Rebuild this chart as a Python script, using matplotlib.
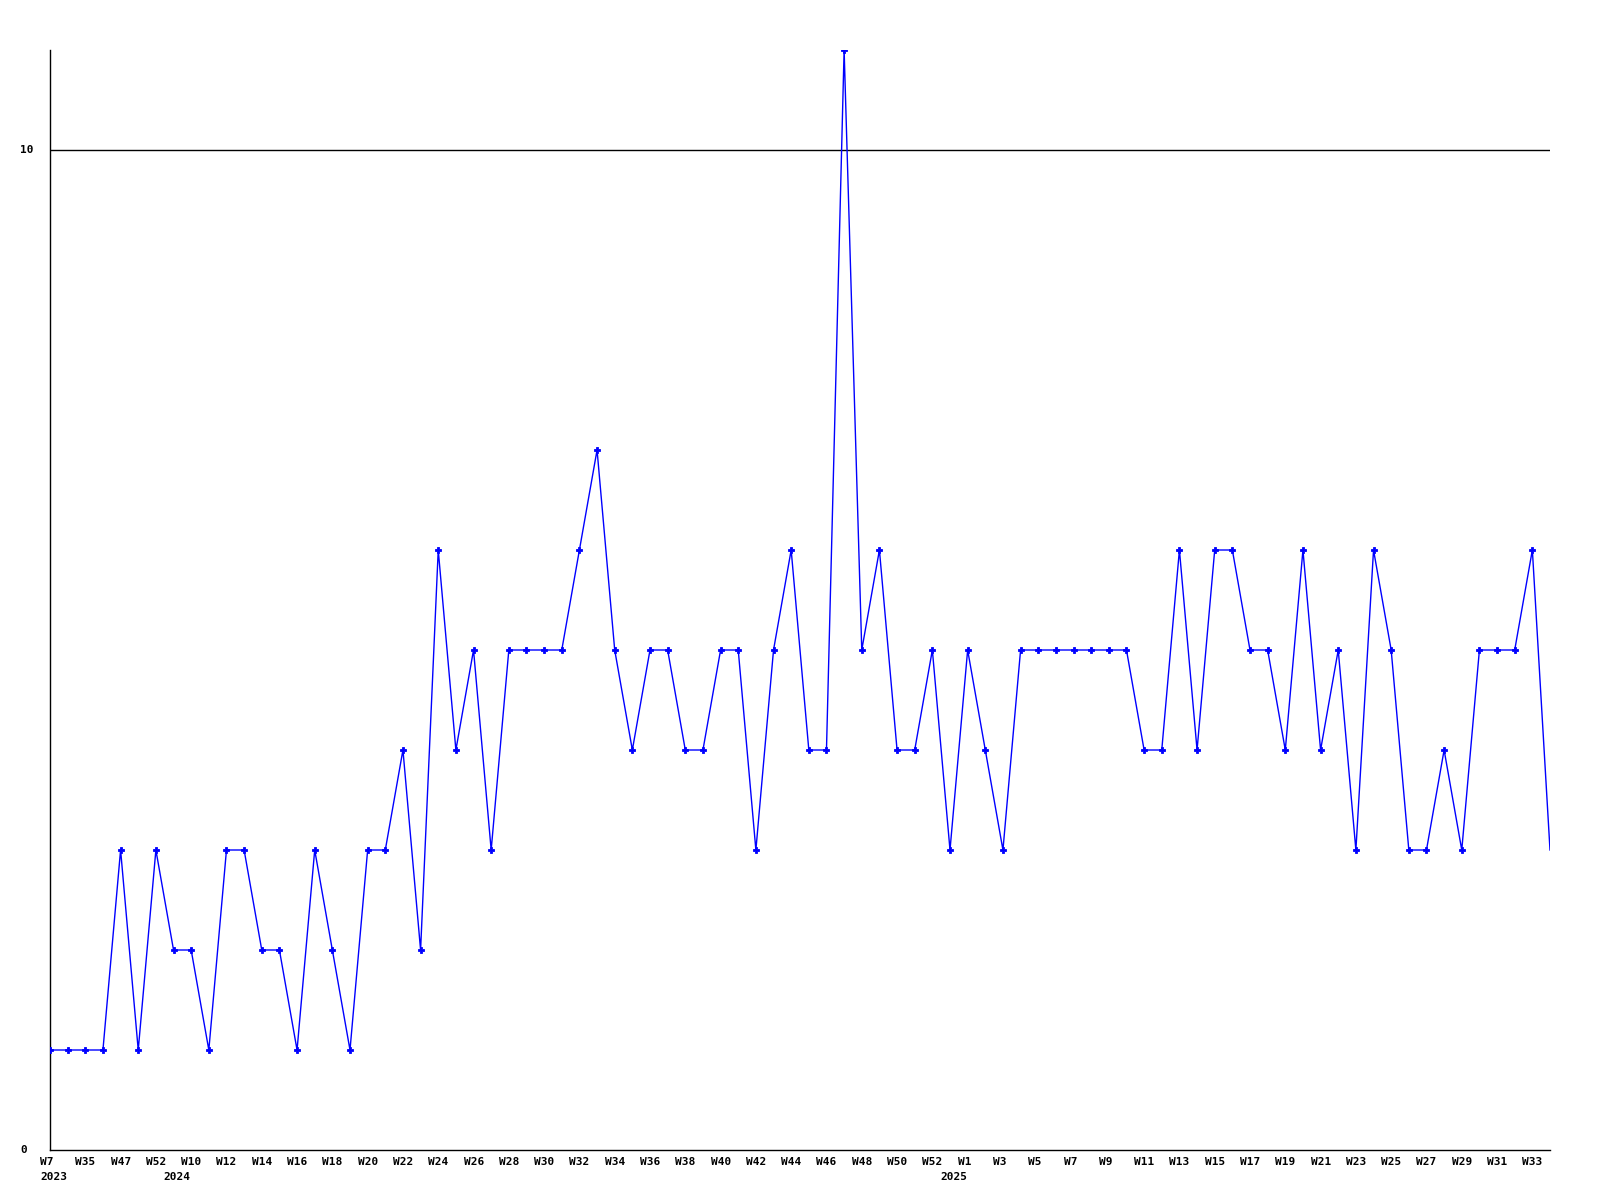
import matplotlib
matplotlib.use("Agg")
import matplotlib.pyplot as plt
from matplotlib.transforms import ScaledTranslation, blended_transform_factory

values = [1, 1, 1, 1, 3, 1, 3, 2, 2, 1, 3, 3, 2, 2, 1, 3, 2, 1, 3, 3,
          4, 2, 6, 4, 5, 3, 5, 5, 5, 5, 6, 7, 5, 4, 5, 5, 4, 4, 5, 5,
          3, 5, 6, 4, 4, 11, 5, 6, 4, 4, 5, 3, 5, 4, 3, 5, 5, 5, 5, 5,
          5, 5, 4, 4, 6, 4, 6, 6, 5, 5, 4, 6, 4, 5, 3, 6, 5, 3, 3, 4,
          3, 5, 5, 5, 6, 3]

week_labels = ["W7", "W35", "W47", "W52", "W10", "W12", "W14", "W16", "W18", "W20",
               "W22", "W24", "W26", "W28", "W30", "W32", "W34", "W36", "W38", "W40",
               "W42", "W44", "W46", "W48", "W50", "W52", "W1", "W3", "W5", "W7",
               "W9", "W11", "W13", "W15", "W17", "W19", "W21", "W23", "W25", "W27",
               "W29", "W31", "W33"]
week_label_idx = list(range(0, 86, 2))

year_labels = ["2023", "2024", "2025"]
year_label_idx = [0, 7, 51]

y_ticks = [0, 10]

fig = plt.figure(figsize=(16, 12), dpi=100)
ax = fig.add_axes([50 / 1600, 1 - 1150 / 1200, 1500 / 1600, 1100 / 1200])

x = list(range(len(values)))
ax.plot(x, values, color="#0000ff", linewidth=1.0, zorder=3)
ax.plot(x[:-1], values[:-1], linestyle="none", marker="P", markersize=4.5,
        color="#0000ff", markeredgewidth=0.6, zorder=4)

ax.set_xlim(0, len(values) - 1)
ax.set_ylim(0, 11)

for s in ["top", "right"]:
    ax.spines[s].set_visible(False)
for s in ["left", "bottom"]:
    ax.spines[s].set_color("black")
    ax.spines[s].set_linewidth(1.0)

ax.set_xticks([])
ax.set_yticks([])

# gridline at 10
for yt in y_ticks:
    if yt > 0:
        ax.axhline(yt, color="black", linewidth=1.0, zorder=2)

font = dict(family="DejaVu Sans Mono", fontweight="bold", fontsize=8, color="black")

# y labels
ytrans = blended_transform_factory(fig.transFigure, ax.transData)
for yt in y_ticks:
    ax.text(20 / 1600, yt, str(yt), transform=ytrans, ha="left", va="center", **font)

# x week labels
off = ScaledTranslation(-10 / 100, 0, fig.dpi_scale_trans)
xtrans = blended_transform_factory(ax.transData, fig.transFigure)
for i, lab in zip(week_label_idx, week_labels):
    ax.text(i, 1 - 1162 / 1200, lab, transform=xtrans + off, ha="left",
            va="center", **font)
for i, lab in zip(year_label_idx, year_labels):
    ax.text(i, 1 - 1177 / 1200, lab, transform=xtrans + off, ha="left",
            va="center", **font)

fig.savefig("out.png", dpi=100)
